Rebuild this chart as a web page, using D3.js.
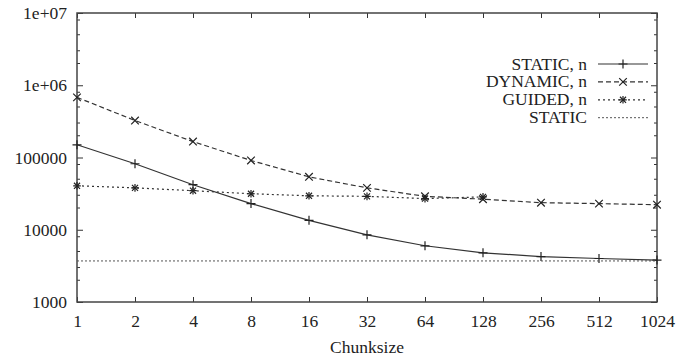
<!DOCTYPE html>
<html>
<head>
<meta charset="utf-8">
<script src="https://cdn.jsdelivr.net/npm/d3@7"></script>
<style>
  body { margin: 0; background: #fff; }
  svg text { font-family: "Liberation Serif", "Times New Roman", Times, "DejaVu Serif", serif !important; fill: #222; }
</style>
</head>
<body>
<svg id="chart" width="677" height="358"></svg>
<script>
// chunk sizes (x axis, log2)
const chunks = [1, 2, 4, 8, 16, 32, 64, 128, 256, 512, 1024];
// measured times per chunk size
const staticN  = [150000, 82000, 42000, 23000, 13500, 8500, 6000, 4800, 4250, 4000, 3800];
const dynamicN = [680000, 325000, 166000, 91000, 54000, 38000, 29000, 26500, 23700, 23000, 22200];
const guidedN  = [40600, 38000, 34700, 31500, 29500, 29000, 27000, 28500];
const staticPlain = 3700;
const yTicks = [1000, 10000, 100000, 1e6, 1e7];
const yTickLabels = ['1000', '10000', '100000', '1e+06', '1e+07'];
const seriesNames = ['STATIC, n', 'DYNAMIC, n', 'GUIDED, n', 'STATIC'];

const margin = { top: 13, right: 20, bottom: 56, left: 77 };
const width = 677 - margin.left - margin.right;
const height = 358 - margin.top - margin.bottom;
const ink = '#333';
const serif = '"Liberation Serif", "Times New Roman", Times, "DejaVu Serif", serif';

const svg = d3.select('#chart');
const g = svg.append('g').attr('transform', `translate(${margin.left},${margin.top})`);

const x = d3.scaleLog().base(2).domain([1, 1024]).range([0, width]);
const y = d3.scaleLog().domain([1000, 1e7]).range([height, 0]);

// 軸
const xAxis = g.append('g')
    .attr('transform', `translate(0,${height})`)
    .call(d3.axisBottom(x).tickValues(chunks).tickFormat(d3.format('d')).tickSize(-5).tickPadding(13));
const xTop = g.append('g')
    .call(d3.axisTop(x).tickValues(chunks).tickFormat('').tickSize(-5));
const yAxis = g.append('g')
    .call(d3.axisLeft(y).tickValues(yTicks).tickFormat((d, i) => yTickLabels[i]).tickSize(-6).tickPadding(10));
const yRight = g.append('g')
    .attr('transform', `translate(${width},0)`)
    .call(d3.axisRight(y).tickValues(yTicks).tickFormat('').tickSize(-6));

[xAxis, xTop, yAxis, yRight].forEach(a => {
    a.attr('font-family', serif).attr('font-size', 17.5);
    a.select('.domain').remove();
    a.selectAll('.tick line').attr('stroke', ink).attr('stroke-width', 1);
    a.selectAll('.tick text').attr('fill', '#222');
});

// 補助目盛
const minor = [];
[1000, 10000, 100000, 1e6].forEach(dec => [2, 3, 5, 8].forEach(m => minor.push(dec * m)));
g.append('g').selectAll('line.minl').data(minor).enter().append('line')
    .attr('x1', 0).attr('x2', 3).attr('y1', d => y(d)).attr('y2', d => y(d))
    .attr('stroke', ink);
g.append('g').selectAll('line.minr').data(minor).enter().append('line')
    .attr('x1', width).attr('x2', width - 3).attr('y1', d => y(d)).attr('y2', d => y(d))
    .attr('stroke', ink);

// 枠
g.append('rect').attr('width', width).attr('height', height)
    .attr('fill', 'none').attr('stroke', '#444').attr('stroke-width', 1.5);

// x軸ラベル
g.append('text').attr('x', width / 2).attr('y', height + 51)
    .attr('font-family', serif).attr('font-size', 17.5)
    .attr('text-anchor', 'middle').text('Chunksize');

const line = d3.line().x(d => x(d[0])).y(d => y(d[1]));

// マーカー
function plus(sel, s) {
    sel.append('path').attr('d', `M${-s},0H${s}M0,${-s}V${s}`);
}
function cross(sel, s) {
    sel.append('path').attr('d', `M${-s},${-s}L${s},${s}M${-s},${s}L${s},${-s}`);
}
function star(sel, s) {
    plus(sel, s);
    cross(sel, s * 0.8);
}

const series = [
    { name: seriesNames[0], values: staticN, dash: null, marker: plus, ms: 4.5 },
    { name: seriesNames[1], values: dynamicN, dash: '5,3', marker: cross, ms: 3.8 },
    { name: seriesNames[2], values: guidedN, dash: '2,3', marker: star, ms: 3.8 }
];

series.forEach(s => {
    const pts = s.values.map((v, i) => [chunks[i], v]);
    g.append('path').datum(pts)
        .attr('d', line)
        .attr('fill', 'none')
        .attr('stroke', ink)
        .attr('stroke-width', 1.2)
        .attr('stroke-dasharray', s.dash);
    pts.forEach(p => {
        const m = g.append('g')
            .attr('transform', `translate(${x(p[0])},${y(p[1])})`)
            .attr('stroke', '#222').attr('stroke-width', 1.2).attr('fill', 'none');
        s.marker(m, s.ms);
    });
});

// STATIC (一定)
g.append('path').datum([[1, staticPlain], [1024, staticPlain]])
    .attr('d', line)
    .attr('fill', 'none')
    .attr('stroke', '#555')
    .attr('stroke-width', 1)
    .attr('stroke-dasharray', '2,2');

// 凡例
const legend = svg.append('g').attr('font-family', serif).attr('font-size', 17.5);
const legendRows = [
    { name: seriesNames[0], dash: null, marker: plus, ms: 4.5, color: ink },
    { name: seriesNames[1], dash: '5,3', marker: cross, ms: 3.8, color: ink },
    { name: seriesNames[2], dash: '2,3', marker: star, ms: 3.8, color: ink },
    { name: seriesNames[3], dash: '2,2', marker: null, ms: 0, color: '#555' }
];
legendRows.forEach((r, i) => {
    const cy = 64 + i * 17.9;
    legend.append('text').attr('x', 587).attr('y', cy + 5.5)
        .attr('text-anchor', 'end').text(r.name);
    legend.append('line').attr('x1', 598).attr('x2', 648).attr('y1', cy).attr('y2', cy)
        .attr('stroke', r.color).attr('stroke-width', r.marker ? 1.2 : 1)
        .attr('stroke-dasharray', r.dash);
    if (r.marker) {
        const m = legend.append('g').attr('transform', `translate(623,${cy})`)
            .attr('stroke', '#222').attr('stroke-width', 1.2).attr('fill', 'none');
        r.marker(m, r.ms);
    }
});
</script>
</body>
</html>
